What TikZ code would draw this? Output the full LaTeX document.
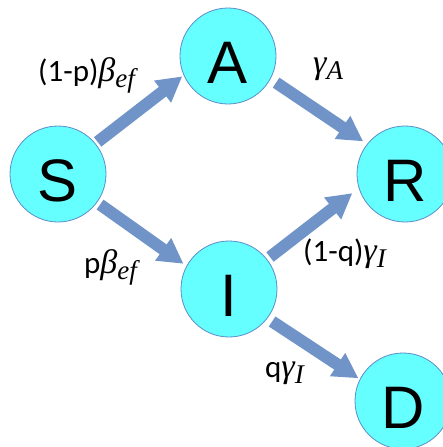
\documentclass[tikz,border=0pt]{standalone}
\usepackage{fontspec}
\setmainfont{Carlito}
\newfontfamily\nodefont{Liberation Sans}
\newfontfamily\mfont{Liberation Serif}
\usetikzlibrary{arrows.meta}
\definecolor{nodefill}{RGB}{102,255,255}
\definecolor{nodeline}{RGB}{91,140,200}
\definecolor{arrowblue}{RGB}{112,148,200}
\newcommand{\grk}[2]{{\fontsize{34pt}{34pt}\selectfont\mfont\itshape #1}{\raisebox{-6pt}{\fontsize{27pt}{27pt}\selectfont\mfont\itshape #2}}}
\begin{document}
\begin{tikzpicture}[x=1pt,y=-1pt,
  state/.style={circle, fill=nodefill, draw=nodeline, line width=0.8pt,
    minimum size=96pt, inner sep=0pt, text height=54pt, text depth=0pt,
    font=\fontsize{60pt}{60pt}\selectfont\nodefont},
  flow/.style={draw=arrowblue, line width=12pt, -{Triangle[width=26pt,length=25pt]}},
  lab/.style={inner sep=0pt, anchor=base west, font=\fontsize{31pt}{31pt}\selectfont}]
\clip (0,0) rectangle (443,447);
\node[state] (S) at (58,174) {S};
\node[state] (A) at (228,56) {A};
\node[state] (R) at (405,174) {R};
\node[state] (I) at (229,289) {I};
\node[state] (D) at (403,401) {D};
\draw[flow] ([shift={(39:51pt)}]S.center) -- ([shift={(204:50pt)}]A.center);
\draw[flow] ([shift={(-29:55pt)}]A.center) -- ([shift={(142:53pt)}]R.center);
\draw[flow] ([shift={(-36:52pt)}]S.center) -- ([shift={(151:52pt)}]I.center);
\draw[flow] ([shift={(38:52pt)}]I.center) -- ([shift={(200:56pt)}]R.center);
\draw[flow] ([shift={(-37:54pt)}]I.center) -- ([shift={(153:50pt)}]D.center);
\node[lab] (l1) at (38,81) {(1-p)\grk{β}{ef}};
\node[lab] (l2) at (313,73) {\grk{γ}{A}};
\node[lab] (l3) at (84,273) {p\grk{β}{ef}};
\node[lab] (l4) at (303,261) {(1-q)\grk{γ}{I}};
\node[lab] (l5) at (265,377) {q\grk{γ}{I}};
\end{tikzpicture}
\end{document}
